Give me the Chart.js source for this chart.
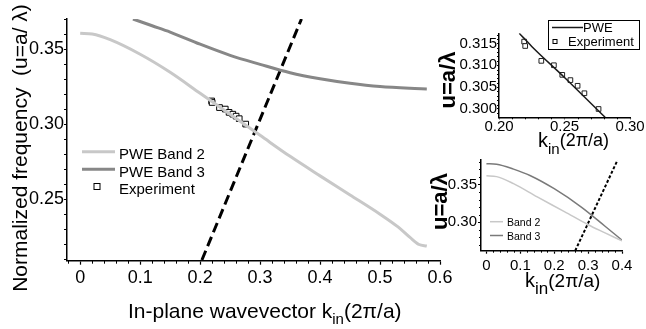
<!DOCTYPE html>
<html><head><meta charset="utf-8">
<script src="https://cdn.jsdelivr.net/npm/chart.js@4"></script>
<style>
html,body{margin:0;padding:0;background:#fff;width:646px;height:329px;overflow:hidden}
canvas{position:absolute}
#c1{left:0;top:0}
#c2{left:400px;top:0}
#c3{left:400px;top:150px}
</style></head><body>
<canvas id="c1" width="470" height="329"></canvas>
<canvas id="c2" width="246" height="160"></canvas>
<canvas id="c3" width="246" height="179"></canvas>
<script>
// ---------- data ----------
// Main panel
const mainBand2K = [0, 0.02, 0.05, 0.10, 0.15, 0.20, 0.25, 0.30, 0.35, 0.40, 0.45, 0.50, 0.53, 0.55, 0.565, 0.578];
const mainBand2U = [0.3605, 0.3600, 0.3562, 0.3465, 0.3345, 0.3205, 0.3065, 0.2925, 0.2785, 0.2655, 0.2528, 0.2400, 0.2315, 0.2245, 0.2198, 0.2188];
const mainBand3K = [0.088, 0.12, 0.15, 0.20, 0.25, 0.30, 0.35, 0.40, 0.45, 0.50, 0.55, 0.578];
const mainBand3U = [0.3700, 0.3655, 0.3613, 0.3532, 0.3458, 0.3398, 0.3342, 0.3302, 0.3272, 0.3250, 0.3238, 0.3234];
const mainLightK = [0.203, 0.369];
const mainLightU = [0.2095, 0.370];
// Experiment
const expK = [0.2192, 0.2200, 0.2323, 0.2419, 0.2483, 0.2545, 0.2600, 0.2652, 0.2760];
const expU = [0.3154, 0.3144, 0.3110, 0.3100, 0.3078, 0.3066, 0.3053, 0.3036, 0.3000];
// Top inset PWE
const topPweK = [0.2155, 0.2190, 0.2250, 0.2500, 0.2810];
const topPweU = [0.3173, 0.3162, 0.3143, 0.3072, 0.2981];
// Bottom inset
const lowBand2K = [0, 0.03, 0.08, 0.15, 0.23, 0.30, 0.35, 0.40];
const lowBand2U = [0.3615, 0.3605, 0.3512, 0.3335, 0.3140, 0.2965, 0.2857, 0.2750];
const lowBand3K = [0, 0.03, 0.08, 0.13, 0.20, 0.28, 0.35, 0.40];
const lowBand3U = [0.3777, 0.3770, 0.3705, 0.3617, 0.3444, 0.3200, 0.2945, 0.2760];
const lowLightK = [0.262, 0.387];
const lowLightU = [0.262, 0.3826];
// Ticks
const mainXTicks = [0, 0.1, 0.2, 0.3, 0.4, 0.5, 0.6];
const mainXLabels = ['0', '0.1', '0.2', '0.3', '0.4', '0.5', '0.6'];
const mainYTicks = [0.25, 0.30, 0.35];
const mainYLabels = ['0.25', '0.30', '0.35'];
const topXTicks = [0.20, 0.25, 0.30];
const topXLabels = ['0.20', '0.25', '0.30'];
const topYTicks = [0.300, 0.305, 0.310, 0.315];
const topYLabels = ['0.300', '0.305', '0.310', '0.315'];
const lowXTicks = [0, 0.1, 0.2, 0.3, 0.4];
const lowXLabels = ['0', '0.1', '0.2', '0.3', '0.4'];
const lowYTicks = [0.30, 0.35];
const lowYLabels = ['0.30', '0.35'];

// ---------- helpers ----------
const F = "'Liberation Sans', Arial, Helvetica, sans-serif";
const pts = (xs, ys) => xs.map((x, i) => ({x: x, y: ys[i]}));

const extras = {
  id: 'extras',
  afterDraw(chart, args, o) {
    const ctx = chart.ctx, ca = chart.chartArea, sx = chart.scales.x, sy = chart.scales.y;
    ctx.save();
    if (o.minor) {
      const m = o.minor;
      ctx.strokeStyle = '#000'; ctx.lineWidth = 1; ctx.setLineDash([]);
      const near = (v, arr, st) => arr.some(a => Math.abs(a - v) < st / 10);
      ctx.beginPath();
      for (let i = Math.ceil(sx.min / m.xs - 1e-6); i * m.xs <= sx.max + 1e-9; i++) {
        const v = i * m.xs; if (near(v, m.xMajor, m.xs)) continue;
        const p = Math.round(sx.getPixelForValue(v)) + 0.5;
        ctx.moveTo(p, ca.bottom); ctx.lineTo(p, ca.bottom + m.len);
      }
      for (let i = Math.ceil(sy.min / m.ys - 1e-6); i * m.ys <= sy.max + 1e-9; i++) {
        const v = i * m.ys; if (near(v, m.yMajor, m.ys)) continue;
        const p = Math.round(sy.getPixelForValue(v)) + 0.5;
        ctx.moveTo(ca.left, p); ctx.lineTo(ca.left - m.len, p);
      }
      ctx.stroke();
    }
    if (o.legend) {
      const L = o.legend;
      if (L.box) {
        ctx.fillStyle = '#fff'; ctx.fillRect(L.box.x, L.box.y, L.box.w, L.box.h);
        ctx.strokeStyle = '#000'; ctx.lineWidth = 1; ctx.strokeRect(L.box.x + 0.5, L.box.y + 0.5, L.box.w, L.box.h);
      }
      L.items.forEach(it => {
        const ds = chart.data.datasets[it.ds];
        if (it.kind === 'line') {
          ctx.strokeStyle = ds.borderColor; ctx.lineWidth = ds.borderWidth; ctx.setLineDash([]);
          ctx.beginPath(); ctx.moveTo(it.x1, it.y); ctx.lineTo(it.x2, it.y); ctx.stroke();
        } else {
          const s = it.size;
          ctx.fillStyle = '#fff'; ctx.fillRect(it.px - s / 2, it.y - s / 2, s, s);
          ctx.strokeStyle = '#000'; ctx.lineWidth = 1; ctx.strokeRect(it.px - s / 2, it.y - s / 2, s, s);
        }
        ctx.fillStyle = '#000'; ctx.font = L.font; ctx.textAlign = 'left'; ctx.textBaseline = 'alphabetic';
        ctx.fillText(ds.label, it.tx, it.y + L.dy);
      });
    }
    (o.texts || []).forEach(t => {
      ctx.save();
      ctx.translate(t.x, t.y);
      if (t.rot) ctx.rotate(-Math.PI / 2);
      ctx.fillStyle = '#000'; ctx.textBaseline = 'alphabetic'; ctx.textAlign = 'left';
      let total = 0;
      t.parts.forEach(p => { ctx.font = p.font; p.w = ctx.measureText(p.t).width; total += p.w; });
      let cx = t.align === 'center' ? -total / 2 : 0;
      t.parts.forEach(p => { ctx.font = p.font; ctx.fillText(p.t, cx, p.dy || 0); cx += p.w; });
      ctx.restore();
    });
    ctx.restore();
  }
};

function axis(opts) {
  return {
    type: 'linear', min: opts.min, max: opts.max,
    afterFit(s) { if (opts.w !== undefined) s.width = opts.w; if (opts.h !== undefined) s.height = opts.h; },
    afterBuildTicks(s) { s.ticks = opts.ticks.map(v => ({value: v})); },
    ticks: {
      callback: (v, i) => opts.labels[i],
      font: {family: F, size: opts.fs, lineHeight: opts.lh || 1.2},
      color: '#000', padding: opts.pad, maxRotation: 0, autoSkip: false
    },
    grid: {display: true, drawOnChartArea: false, drawTicks: true, tickLength: opts.tl, tickColor: '#000', tickWidth: 1.2},
    border: {display: true, color: '#000', width: opts.bw || 1.5}
  };
}

const common = {responsive: false, animation: false, events: []};

// ---------- main chart ----------
new Chart(document.getElementById('c1'), {
  type: 'scatter',
  data: {datasets: [
    {label: 'PWE Band 2', data: pts(mainBand2K, mainBand2U), showLine: true, borderColor: '#c8c8c8', borderWidth: 3, pointRadius: 0, cubicInterpolationMode: 'monotone'},
    {label: 'PWE Band 3', data: pts(mainBand3K, mainBand3U), showLine: true, borderColor: '#878787', borderWidth: 3, pointRadius: 0, cubicInterpolationMode: 'monotone'},
    {label: 'Light line', data: pts(mainLightK, mainLightU), showLine: true, borderColor: '#000', borderWidth: 3, borderDash: [10, 5], pointRadius: 0},
    {label: 'Experiment', data: pts(expK, expU), showLine: false, pointStyle: 'rect', pointRadius: 4, pointBackgroundColor: '#fff', pointBorderColor: '#000', pointBorderWidth: 1}
  ]},
  options: Object.assign({}, common, {
    layout: {padding: {left: 0, top: 19, right: 30, bottom: 0}},
    plugins: {
      legend: {display: false}, tooltip: {enabled: false},
      extras: {
        minor: {xs: 0.02, ys: 0.01, len: 3, xMajor: mainXTicks, yMajor: mainYTicks},
        legend: {font: '15px ' + F, dy: 7.5, items: [
          {ds: 0, kind: 'line', x1: 82, x2: 115, y: 151.7, tx: 119},
          {ds: 1, kind: 'line', x1: 82, x2: 115, y: 169.3, tx: 119},
          {ds: 3, kind: 'point', px: 97, size: 6, y: 186.5, tx: 119}
        ]},
        texts: [
          {x: 27, y: 148, rot: true, align: 'center', parts: [{t: 'Normalized frequency  (u=a/ λ)', font: '21px ' + F}]},
          {x: 128, y: 318, align: 'left', parts: [
            {t: 'In-plane wavevector k', font: '21px ' + F},
            {t: 'in', font: '15px ' + F, dy: 6},
            {t: '(2π/a)', font: '21px ' + F}
          ]}
        ]
      }
    },
    scales: {
      x: axis({min: -0.022, max: 0.6, h: 68.3, ticks: mainXTicks, labels: mainXLabels, fs: 18, pad: 3, tl: 4}),
      y: axis({min: 0.209, max: 0.370, w: 67, ticks: mainYTicks, labels: mainYLabels, fs: 18, pad: 0, tl: 3})
    }
  }),
  plugins: [extras]
});

// ---------- top inset ----------
new Chart(document.getElementById('c2'), {
  type: 'scatter',
  data: {datasets: [
    {label: 'PWE', data: pts(topPweK, topPweU), showLine: true, borderColor: '#1a1a1a', borderWidth: 1.5, pointRadius: 0, cubicInterpolationMode: 'monotone'},
    {label: 'Experiment', data: pts(expK, expU), showLine: false, pointStyle: 'rect', pointRadius: 3.3, pointBackgroundColor: '#fff', pointBorderColor: '#222', pointBorderWidth: 1}
  ]},
  options: Object.assign({}, common, {
    layout: {padding: {left: 0, top: 33.3, right: 16, bottom: 0}},
    plugins: {
      legend: {display: false}, tooltip: {enabled: false},
      extras: {
        minor: {xs: 0.01, ys: 0.001, len: 2, xMajor: topXTicks, yMajor: topYTicks},
        legend: {font: '13px ' + F, box: {x: 148, y: 20, w: 91, h: 29}, dy: 4.5, items: [
          {ds: 0, kind: 'line', x1: 152, x2: 183, y: 27.5, tx: 183},
          {ds: 1, kind: 'point', px: 155, size: 4, y: 41.5, tx: 168}
        ]},
        texts: [
          {x: 55, y: 80, rot: true, align: 'center', parts: [{t: 'u=a/λ', font: 'bold 22px ' + F}]},
          {x: 138, y: 147, align: 'left', parts: [
            {t: 'k', font: '20px ' + F},
            {t: 'in', font: '15px ' + F, dy: 7},
            {t: '(2π/a)', font: '18px ' + F, dy: -1}
          ]}
        ]
      }
    },
    scales: {
      x: axis({min: 0.20, max: 0.30, h: 42.7, ticks: topXTicks, labels: topXLabels, fs: 15, lh: 1, pad: 0, tl: 2}),
      y: axis({min: 0.2981, max: 0.3173, w: 99, ticks: topYTicks, labels: topYLabels, fs: 15, pad: 0, tl: 2})
    }
  }),
  plugins: [extras]
});

// ---------- bottom inset ----------
new Chart(document.getElementById('c3'), {
  type: 'scatter',
  data: {datasets: [
    {label: 'Band 2', data: pts(lowBand2K, lowBand2U), showLine: true, borderColor: '#c8c8c8', borderWidth: 1.5, pointRadius: 0, cubicInterpolationMode: 'monotone'},
    {label: 'Band 3', data: pts(lowBand3K, lowBand3U), showLine: true, borderColor: '#7a7a7a', borderWidth: 1.5, pointRadius: 0, cubicInterpolationMode: 'monotone'},
    {label: 'Light line', data: pts(lowLightK, lowLightU), showLine: true, borderColor: '#000', borderWidth: 2, borderDash: [3, 2], pointRadius: 0}
  ]},
  options: Object.assign({}, common, {
    layout: {padding: {left: 0, top: 8.3, right: 24, bottom: 0}},
    plugins: {
      legend: {display: false}, tooltip: {enabled: false},
      extras: {
        minor: {xs: 0.02, ys: 0.01, len: 2, xMajor: lowXTicks, yMajor: lowYTicks},
        legend: {font: '10.5px ' + F, dy: 4, items: [
          {ds: 0, kind: 'line', x1: 90, x2: 103, y: 71.7, tx: 107},
          {ds: 1, kind: 'line', x1: 90, x2: 103, y: 85.5, tx: 107}
        ]},
        texts: [
          {x: 47, y: 51.5, rot: true, align: 'center', parts: [{t: 'u=a/λ', font: 'bold 22px ' + F}]},
          {x: 125, y: 137, align: 'left', parts: [
            {t: 'k', font: '20px ' + F},
            {t: 'in', font: '17px ' + F, dy: 7},
            {t: '(2π/a)', font: '19px ' + F}
          ]}
        ]
      }
    },
    scales: {
      x: axis({min: -0.016, max: 0.40, h: 78.3, ticks: lowXTicks, labels: lowXLabels, fs: 15, pad: 3, tl: 3}),
      y: axis({min: 0.262, max: 0.3826, w: 81, ticks: lowYTicks, labels: lowYLabels, fs: 15, pad: 1, tl: 3})
    }
  }),
  plugins: [extras]
});
</script>
</body></html>
